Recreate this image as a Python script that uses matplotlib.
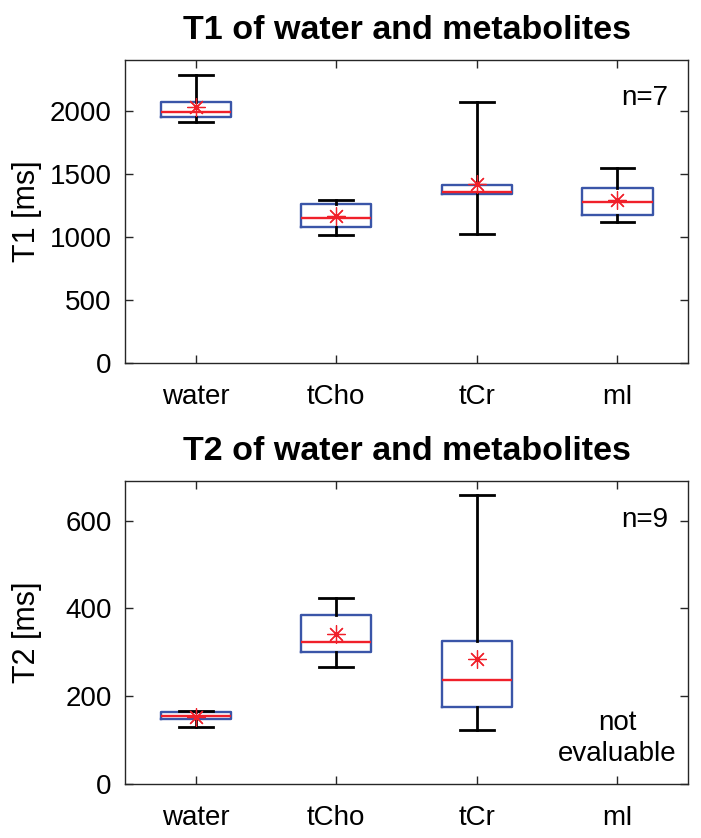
import numpy as np
import matplotlib
matplotlib.use('Agg')
import matplotlib.pyplot as plt

plt.rcParams['font.family'] = ['Liberation Sans', 'DejaVu Sans']

# categories
labels = ['water', 'tCho', 'tCr', 'mI']

# T1 box statistics [ms] (n=7)
t1_lo = [1912, 1011, 1024, 1119]
t1_q1 = [1946, 1080, 1340, 1174]
t1_med = [1986, 1148, 1358, 1274]
t1_q3 = [2064, 1256, 1412, 1390]
t1_hi = [2283, 1288, 2070, 1545]
t1_mean = [2030, 1164, 1418, 1288]

# T2 box statistics [ms] (n=9), mI not evaluable
t2_lo = [131, 266, 123]
t2_q1 = [147, 301, 176]
t2_med = [155, 324, 237]
t2_q3 = [163, 384, 326]
t2_hi = [167, 423, 658]
t2_mean = [153, 342, 284]

box_col = '#3a55a8'
red = '#f0202a'
frame = '#262626'


def make_stats(lo, q1, med, q3, hi, mean):
    stats = []
    for i in range(len(lo)):
        stats.append({'whislo': lo[i], 'q1': q1[i], 'med': med[i], 'q3': q3[i],
                      'whishi': hi[i], 'mean': mean[i], 'fliers': []})
    return stats


def draw(ax, stats, ylim, yticks, title, ylabel):
    ax.bxp(stats, positions=np.arange(1, len(stats) + 1), widths=0.5, capwidths=0.24,
           showmeans=True, showfliers=False,
           boxprops=dict(color=box_col, linewidth=1.7),
           whiskerprops=dict(color='black', linewidth=2.0, linestyle='-'),
           capprops=dict(color='black', linewidth=2.0),
           medianprops=dict(color=red, linewidth=1.7),
           meanprops=dict(marker=(8, 2, 0), markeredgecolor=red, markerfacecolor=red,
                          markersize=13, markeredgewidth=0.9))
    ax.set_xlim(0.5, 4.5)
    ax.set_ylim(*ylim)
    ax.set_xticks(np.arange(1, len(labels) + 1))
    ax.set_xticklabels(labels)
    ax.set_yticks(yticks)
    ax.tick_params(direction='in', top=True, right=True, length=6, width=1,
                   color=frame, labelsize=20, pad=10)
    ax.tick_params(axis='x', pad=15)
    for s in ax.spines.values():
        s.set_color(frame)
        s.set_linewidth(1.0)
    ax.set_title(title, fontsize=24.5, fontweight='bold', pad=15)
    ax.set_ylabel(ylabel, fontsize=22)
    ax.yaxis.set_label_coords(-0.149, 0.5)


fig = plt.figure(figsize=(7.01, 8.38), dpi=100)
ax1 = fig.add_axes([0.179, 0.5668, 0.802, 0.3616])
ax2 = fig.add_axes([0.179, 0.0644, 0.802, 0.3616])

draw(ax1, make_stats(t1_lo, t1_q1, t1_med, t1_q3, t1_hi, t1_mean),
     (0, 2400), [0, 500, 1000, 1500, 2000], 'T1 of water and metabolites', 'T1 [ms]')
draw(ax2, make_stats(t2_lo, t2_q1, t2_med, t2_q3, t2_hi, t2_mean),
     (0, 690), [0, 200, 400, 600], 'T2 of water and metabolites', 'T2 [ms]')

ax1.text(0.965, 0.875, 'n=7', transform=ax1.transAxes, ha='right', va='center', fontsize=20)
ax2.text(0.965, 0.870, 'n=9', transform=ax2.transAxes, ha='right', va='center', fontsize=20)
ax2.text(4, 104, 'not\nevaluable', ha='center', va='center', fontsize=20, linespacing=1.25)

fig.savefig('out.png', dpi=100)
